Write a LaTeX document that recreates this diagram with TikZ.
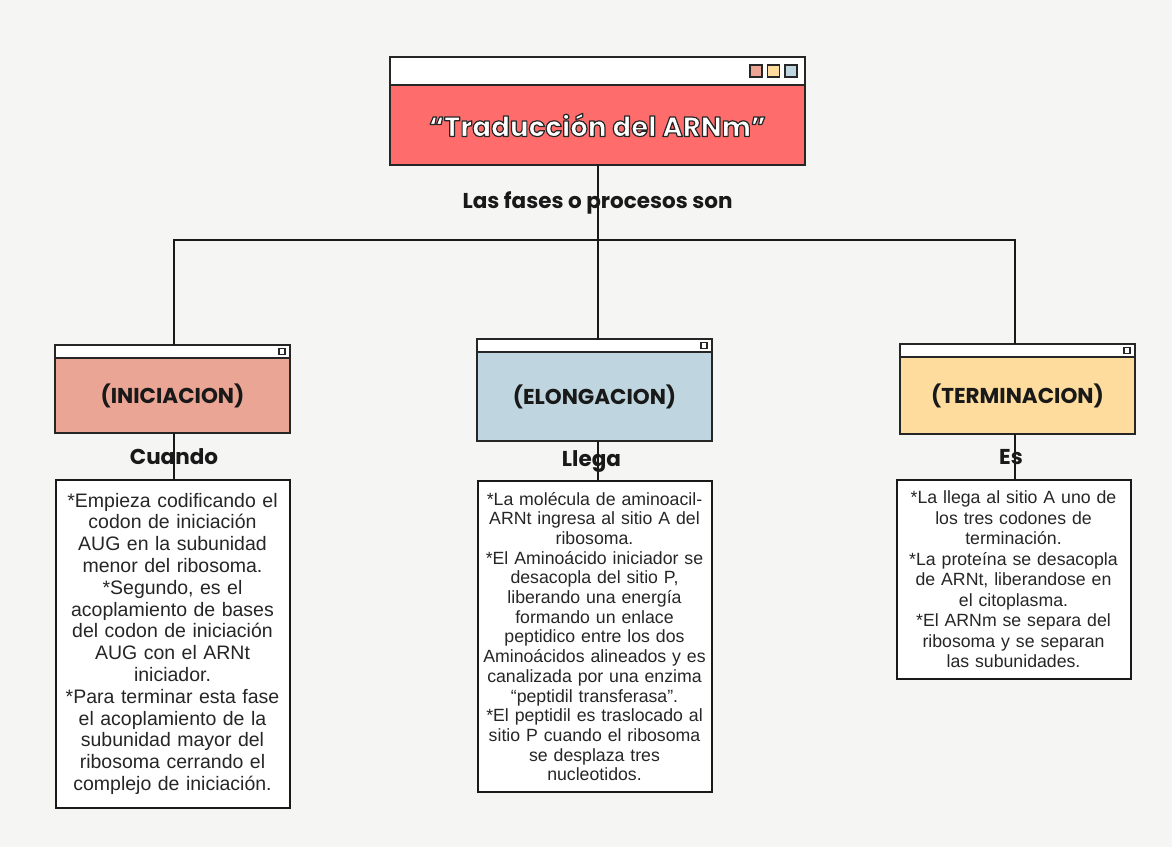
\documentclass[tikz,border=0pt]{standalone}
\usepackage{fontspec}
\setmainfont{Liberation Sans}
\newfontfamily\headfont{Poppins}
\usetikzlibrary{positioning}
\definecolor{paper}{RGB}{245,245,244}
\definecolor{titlered}{RGB}{255,108,108}
\definecolor{inicolor}{RGB}{234,165,148}
\definecolor{elocolor}{RGB}{191,214,224}
\definecolor{tercolor}{RGB}{253,220,158}
\newcommand{\outlined}[1]{\special{pdf:literal direct 0.15 0.15 0.15 RG 1.2 w 1 j 2 Tr}#1\special{pdf:literal direct 0 Tr}}
\tikzset{
  winbar/.style= {
    rectangle,
    draw = black!85,
    fill = white,
    line width = 2.5pt,
    minimum width = #1,
    minimum height = 13pt,
    inner sep = 0pt,
    outer sep = 0pt
  },
  winbar/.default = 235pt,
  winbody/.style= {
    rectangle,
    draw = black!85,
    line width = 2.5pt,
    minimum width = 235pt,
    inner sep = 0pt,
    outer sep = 0pt,
    font = \headfont\bfseries\fontsize{21.5}{25}\selectfont,
    text = black!90
  },
  winicon/.style= {
    rectangle,
    draw = black!85,
    fill = white,
    line width = 1.5pt,
    minimum size = 6pt,
    inner sep = 0pt
  },
  winsquare/.style= {
    rectangle,
    draw = black!85,
    line width = 1.5pt,
    minimum size = 12pt,
    inner sep = 0pt
  },
  notebox/.style= {
    rectangle,
    draw = black!90,
    fill = white,
    line width = 2pt,
    text width = 226pt,
    align = center,
    inner xsep = 4pt,
    inner ysep = 11pt,
    outer sep = 0pt,
    text = black!85,
    font = \fontsize{17.7}{19.7}\selectfont
  },
  linklabel/.style= {
    font = \headfont\bfseries\fontsize{21.5}{25}\selectfont,
    text = black!90,
    inner sep = 0pt
  },
  connector/.style= {
    draw = black!90,
    line width = 2pt
  }
}
\begin{document}
\begin{tikzpicture}[x=1pt,y=-1pt]
  \useasboundingbox[fill=paper] (0,0) rectangle (1172,847);

  \node[winbody,fill=titlered,minimum width=415pt,minimum height=80pt,
    font=\headfont\bfseries\fontsize{27.7}{33}\selectfont,text=white]
    (title) at (597.5,125) {\outlined{“Traducción del ARNm”}};
  \node[winbar=415pt,minimum height=28pt,above=0pt of title] (titlebar) {};
  \node[winsquare,fill=elocolor] (sq3) at ([xshift=-14pt]titlebar.east) {};
  \node[winsquare,fill=tercolor,left=4pt of sq3] (sq2) {};
  \node[winsquare,fill=inicolor,left=4pt of sq2] (sq1) {};

  \node[winbody,fill=inicolor,minimum height=75pt] (ini) at (172.5,395.5) {(INICIACION)};
  \node[winbar,above=0pt of ini] (inibar) {};
  \node[winicon] (iniicon) at ([xshift=-8pt]inibar.east) {};

  \node[winbody,fill=elocolor,minimum height=89pt] (elo) at (594.5,396.5) {(ELONGACION)};
  \node[winbar,above=0pt of elo] (elobar) {};
  \node[winicon] (eloicon) at ([xshift=-8pt]elobar.east) {};

  \node[winbody,fill=tercolor,minimum height=77pt] (ter) at (1017.5,395.5) {(TERMINACION)};
  \node[winbar,above=0pt of ter] (terbar) {};
  \node[winicon] (tericon) at ([xshift=-8pt]terbar.east) {};

  \coordinate (split) at (title.south |- 0,240);
  \draw[connector] (title.south) -- node[linklabel]{Las fases o procesos son} (split);
  \draw[connector] ([xshift=1.5pt]inibar.north) |- (split) -| ([xshift=-2.5pt]terbar.north);
  \draw[connector] (split) -- (split |- elobar.north);

  \node[notebox,below=47pt of ini,inner ysep=13pt,font=\fontsize{19.5}{21.8}\selectfont] (ininote) {{*}Empieza codificando el\\ codon de iniciación\\ AUG en la subunidad\\ menor del ribosoma.\\ {*}Segundo, es el\\ acoplamiento de bases\\ del codon de iniciación\\ AUG con el ARNt\\ iniciador.\\ {*}Para terminar esta fase\\ el acoplamiento de la\\ subunidad mayor del\\ ribosoma cerrando el\\ complejo de iniciación.};
  \node[notebox,below=40pt of elo] (elonote) {{*}La molécula de aminoacil-\\ ARNt ingresa al sitio A del\\ ribosoma.\\ {*}El Aminoácido iniciador se\\ desacopla del sitio P,\\ liberando una energía\\ formando un enlace\\ peptidico entre los dos\\ Aminoácidos alineados y es\\ canalizada por una enzima\\ “peptidil transferasa”.\\ {*}El peptidil es traslocado al\\ sitio P cuando el ribosoma\\ se desplaza tres\\ nucleotidos.};
  \node[notebox,below=46pt of ter,xshift=-4pt,font=\fontsize{17.7}{20.5}\selectfont] (ternote) {{*}La llega al sitio A uno de\\ los tres codones de\\ terminación.\\ {*}La proteína se desacopla\\ de ARNt, liberandose en\\ el citoplasma.\\ {*}El ARNm se separa del\\ ribosoma y se separan\\ las subunidades.};

  \draw[connector] ([xshift=1.5pt]ini.south) -- node[linklabel]{Cuando} ([xshift=1.5pt]ini.south |- ininote.north);
  \draw[connector] (split |- elo.south) -- node[linklabel,xshift=-6pt]{Llega} (split |- elonote.north);
  \draw[connector] ([xshift=-2.5pt]ter.south) -- node[linklabel,xshift=-4pt]{Es} ([xshift=-2.5pt]ter.south |- ternote.north);
\end{tikzpicture}
\end{document}
